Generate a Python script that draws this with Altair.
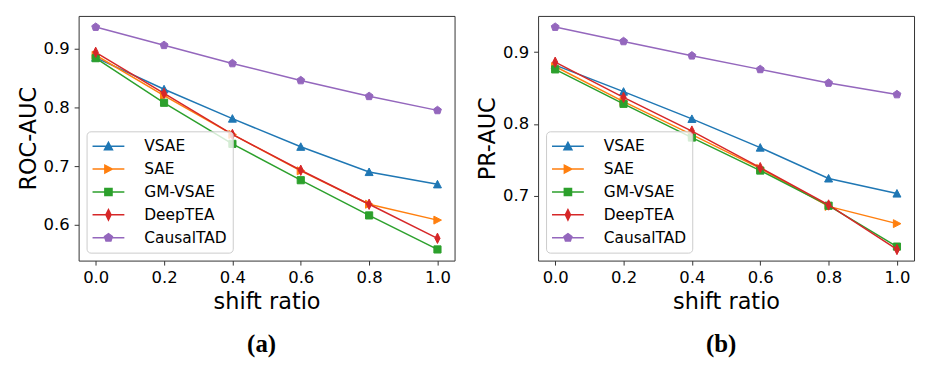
import altair as alt
import pandas as pd

shift = [0.0, 0.2, 0.4, 0.6, 0.8, 1.0]
series = ["VSAE", "SAE", "GM-VSAE", "DeepTEA", "CausalTAD"]
colors = ["#1f77b4", "#ff7f0e", "#2ca02c", "#d62728", "#9467bd"]

roc_vsae = [0.885, 0.831, 0.781, 0.733, 0.690, 0.669]
roc_sae = [0.889, 0.820, 0.754, 0.692, 0.635, 0.608]
roc_gm = [0.884, 0.808, 0.738, 0.676, 0.616, 0.558]
roc_deeptea = [0.894, 0.824, 0.754, 0.693, 0.635, 0.577]
roc_causal = [0.937, 0.906, 0.875, 0.846, 0.819, 0.795]

pr_vsae = [0.882, 0.845, 0.807, 0.767, 0.724, 0.703]
pr_sae = [0.880, 0.831, 0.785, 0.738, 0.685, 0.661]
pr_gm = [0.876, 0.828, 0.781, 0.735, 0.686, 0.629]
pr_deeptea = [0.886, 0.837, 0.790, 0.739, 0.687, 0.625]
pr_causal = [0.935, 0.915, 0.895, 0.876, 0.857, 0.841]

# marker glyphs (unit square -1..1), matplotlib-like ^ > s d p
markers = [
    "M0,-0.5L0.5,0.45L-0.5,0.45Z",
    "M0.5,0L-0.45,-0.5L-0.45,0.5Z",
    "M-0.45,-0.45L0.45,-0.45L0.45,0.45L-0.45,0.45Z",
    "M0,-0.65L0.32,0L0,0.65L-0.32,0Z",
    "M0,-0.52L0.495,-0.161L0.306,0.421L-0.306,0.421L-0.495,-0.161Z",
]
legend_line = "M-2,0L2,0 "
legend_shapes = [legend_line + m for m in markers]

FONT = "DejaVu Sans"


def panel(values, ytitle, ydomain, yticks, caption):
    rows = []
    for name, vals in zip(series, values):
        for x, v in zip(shift, vals):
            rows.append({"shift": x, "value": v, "series": name})
    df = pd.DataFrame(rows)
    base = alt.Chart(df)
    xenc = alt.X(
        "shift:Q",
        scale=alt.Scale(domain=[-0.05, 1.05], nice=False, zero=False),
        axis=alt.Axis(values=shift, format=".1f", title="shift ratio"),
    )
    yenc = alt.Y(
        "value:Q",
        scale=alt.Scale(domain=ydomain, nice=False, zero=False),
        axis=alt.Axis(values=yticks, format=".1f", title=ytitle),
    )
    layers = []
    for name, col, mk in zip(series, colors, markers):
        sub = base.transform_filter(alt.datum.series == name)
        layers.append(sub.mark_line(color=col, strokeWidth=1.5).encode(x=xenc, y=yenc))
        layers.append(
            sub.mark_point(shape=mk, filled=True, size=256, color=col, opacity=1,
                           strokeWidth=1, stroke=col).encode(x=xenc, y=yenc)
        )
    leg = alt.Legend(
        title=None, orient="bottom-left", offset=8, padding=6, rowPadding=5,
        symbolSize=256, symbolStrokeWidth=1.5, symbolOffset=7, labelOffset=27,
        symbolFillColor="black", symbolStrokeColor="black", symbolOpacity=1,
        labelFont=FONT, labelFontSize=15.5, labelColor="black", labelLimit=0,
        strokeColor="#cccccc", fillColor="rgba(255,255,255,0.8)", cornerRadius=4,
    )
    legend_layer = base.transform_filter("false").mark_point(filled=True, size=256, opacity=1).encode(
        x=xenc, y=yenc,
        fill=alt.Fill("series:N", scale=alt.Scale(domain=series, range=colors), legend=leg),
        stroke=alt.Stroke("series:N", scale=alt.Scale(domain=series, range=colors), legend=leg),
        shape=alt.Shape("series:N", scale=alt.Scale(domain=series, range=legend_shapes), legend=leg),
    )
    layers.append(legend_layer)
    return alt.layer(*layers).properties(
        width=378, height=246,
        title=alt.TitleParams(caption, orient="bottom", font="Liberation Serif", fontSize=25,
                              fontWeight="bold", color="black", offset=19, dx=-5, anchor="middle"),
    )


left = panel([roc_vsae, roc_sae, roc_gm, roc_deeptea, roc_causal], "ROC-AUC",
             [0.539, 0.956], [0.6, 0.7, 0.8, 0.9], "(a)")
right = panel([pr_vsae, pr_sae, pr_gm, pr_deeptea, pr_causal], "PR-AUC",
              [0.6095, 0.9505], [0.7, 0.8, 0.9], "(b)")

chart = (
    alt.hconcat(left, right, spacing=20)
    .resolve_scale(fill="independent", stroke="independent", shape="independent")
    .properties(padding={"left": 8, "top": 6, "right": 5, "bottom": 5})
    .configure_view(stroke="#333333", strokeWidth=1)
    .configure_axis(
        grid=False, domain=False, tickColor="#333333", tickSize=4.5, tickWidth=1,
        labelFont=FONT, labelFontSize=16.5, labelColor="black",
        titleFont=FONT, titleFontSize=22.5, titleFontWeight="normal", titleColor="black",
    )
    .configure_axisX(labelPadding=4.5, titlePadding=5)
    .configure_axisY(labelPadding=5, titlePadding=3)
)

chart.save("out.html", embed_options={"renderer": "svg", "actions": False})
